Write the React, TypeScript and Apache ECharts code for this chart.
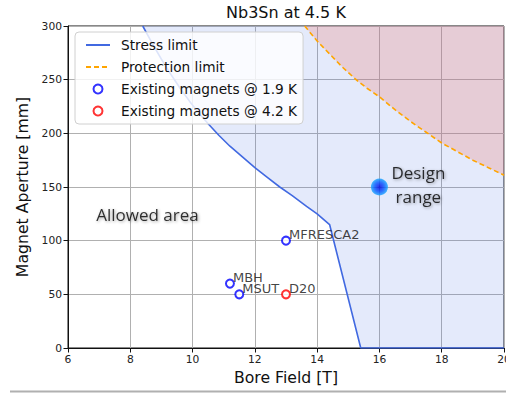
import React, { useEffect, useRef } from "react";
import * as echarts from "echarts";

// Stress limit curve (Bore field [T] vs aperture [mm])
const stressField = [8.4, 8.7, 9.0, 9.3, 9.6, 9.9, 10.2, 10.5, 10.85, 11.2, 11.6, 12.0, 12.4, 12.8, 13.2, 13.66, 14.0, 14.4, 15.4, 20];
const stressAperture = [300, 284, 269, 255, 242, 230, 219, 209, 198, 188, 178, 168, 159, 150, 142, 132, 125, 115, 0, 0];

// Protection limit curve
const protField = [13.6, 14.0, 14.4, 14.8, 15.25, 15.6, 16, 16.5, 17, 17.5, 18, 18.5, 19, 19.5, 20];
const protAperture = [300, 286, 274, 262, 250, 242, 234, 222, 211, 201, 191, 183, 175, 168, 161];

// Existing magnets
const magnetsNames19 = ["MBH", "MSUT", "MFRESCA2"];
const magnetsField19 = [11.2, 11.5, 13];
const magnetsAperture19 = [60, 50, 100];
const magnetsNames42 = ["D20"];
const magnetsField42 = [13];
const magnetsAperture42 = [50];

// Design range point
const designField = [16];
const designAperture = [150];

// Text annotations (data coordinates)
const annotationTexts = ["Allowed area", "Design\nrange"];
const annotationField = [8.55, 17.25];
const annotationAperture = [124, 152];

const xTicks = { min: 6, max: 20, interval: 2 };
const yTicks = { min: 0, max: 300, interval: 50 };

const FONT = "DejaVu Sans";

export default function App() {
  const ref = useRef<HTMLDivElement>(null);
  useEffect(() => {
    if (!ref.current) return;
    const chart = echarts.init(ref.current, null, { renderer: "svg" });
    const hideSymbol = { opacity: 0, borderWidth: 0 };
    const option: any = {
      animation: false,
      backgroundColor: "#fff",
      title: {
        text: "Nb3Sn at 4.5 K",
        left: 226,
        top: 4,
        padding: 0,
        textStyle: { fontFamily: FONT, fontSize: 16, fontWeight: "normal", color: "#111" },
      },
      grid: {
        left: 68,
        top: 26,
        width: 436,
        height: 322,
        outerBoundsMode: "none",
        containLabel: false,
        show: true,
        borderColor: "#111",
        borderWidth: 1,
        backgroundColor: "transparent",
      },
      legend: {
        orient: "vertical",
        left: 75,
        top: 32,
        padding: [5, 6, 5, 10],
        itemGap: 6,
        itemWidth: 24,
        itemHeight: 9,
        backgroundColor: "rgba(255,255,255,0.82)",
        borderColor: "#d0d0d0",
        borderWidth: 1,
        borderRadius: 4,
        textStyle: { fontFamily: FONT, fontSize: 13.7, color: "#111", lineHeight: 16, padding: [0, 0, 0, 6] },
        data: [
          { name: "Stress limit", itemStyle: hideSymbol },
          { name: "Protection limit", itemStyle: hideSymbol },
          "Existing magnets @ 1.9 K",
          "Existing magnets @ 4.2 K",
        ],
      },
      xAxis: {
        type: "value",
        min: xTicks.min,
        max: xTicks.max,
        interval: xTicks.interval,
        name: "Bore Field [T]",
        nameLocation: "middle",
        nameGap: 21,
        nameTextStyle: { fontFamily: FONT, fontSize: 15.7, color: "#111" },
        axisLine: { show: true, onZero: false, lineStyle: { color: "#111", width: 1 } },
        axisTick: { show: true, length: 4.5, lineStyle: { color: "#111" } },
        axisLabel: { fontFamily: FONT, fontSize: 10.7, color: "#222", margin: 6 },
        splitLine: { show: true, lineStyle: { color: "#b0b0b0", width: 1 } },
      },
      yAxis: {
        type: "value",
        min: yTicks.min,
        max: yTicks.max,
        interval: yTicks.interval,
        name: "Magnet Aperture [mm]",
        nameLocation: "middle",
        nameGap: 34,
        nameTextStyle: { fontFamily: FONT, fontSize: 15.7, color: "#111" },
        axisLine: { show: true, onZero: false, lineStyle: { color: "#111", width: 1 } },
        axisTick: { show: true, length: 4.5, lineStyle: { color: "#111" } },
        axisLabel: { fontFamily: FONT, fontSize: 10.7, color: "#222", margin: 6 },
        splitLine: { show: true, lineStyle: { color: "#b0b0b0", width: 1 } },
      },
      series: [
        {
          name: "Stress limit",
          type: "line",
          symbol: "none",
          data: stressField.map((b, i) => [b, stressAperture[i]]),
          lineStyle: { color: "#4169e1", width: 1.6 },
          itemStyle: { color: "#4169e1" },
          areaStyle: { origin: "end", color: "rgba(65,105,225,0.2)" },
          z: 2,
        },
        {
          name: "Protection limit",
          type: "line",
          symbol: "none",
          data: protField.map((b, i) => [b, protAperture[i]]),
          lineStyle: { color: "#ffa500", width: 1.6, type: [5, 3] },
          itemStyle: { color: "#ffa500" },
          areaStyle: { origin: "end", color: "rgba(235,115,105,0.36)" },
          z: 3,
        },
        {
          name: "Existing magnets @ 1.9 K",
          type: "scatter",
          symbol: "circle",
          symbolSize: 8,
          itemStyle: { color: "#fff", borderColor: "#0000ff", borderWidth: 2 },
          data: magnetsNames19.map((n, i) => ({ name: n, value: [magnetsField19[i], magnetsAperture19[i]] })),
          label: {
            show: true,
            position: "right",
            distance: 0,
            offset: [-2, -6],
            formatter: "{b}",
            fontFamily: FONT,
            fontSize: 13,
            color: "#111",
          },
          z: 5,
        },
        {
          name: "Existing magnets @ 4.2 K",
          type: "scatter",
          symbol: "circle",
          symbolSize: 8,
          itemStyle: { color: "#fff", borderColor: "#ff0000", borderWidth: 2 },
          data: magnetsNames42.map((n, i) => ({ name: n, value: [magnetsField42[i], magnetsAperture42[i]] })),
          label: {
            show: true,
            position: "right",
            distance: 0,
            offset: [-2, -6],
            formatter: "{b}",
            fontFamily: FONT,
            fontSize: 13,
            color: "#111",
          },
          z: 5,
        },
        {
          name: "Design range",
          type: "scatter",
          symbol: "circle",
          symbolSize: 17,
          itemStyle: {
            color: new echarts.graphic.RadialGradient(0.5, 0.5, 0.5, [
              { offset: 0, color: "#0000e0" },
              { offset: 0.55, color: "#0050ff" },
              { offset: 1, color: "#18a8ff" },
            ]),
          },
          data: designField.map((b, i) => [b, designAperture[i]]),
          z: 6,
        },
        {
          name: "annotations",
          type: "scatter",
          symbolSize: 0,
          silent: true,
          data: annotationTexts.map((t, i) => ({ name: t, value: [annotationField[i], annotationAperture[i]] })),
          label: {
            show: true,
            position: "inside",
            formatter: "{b}",
            align: "center",
            verticalAlign: "middle",
            fontFamily: "Open Sans",
            fontSize: 17,
            lineHeight: 24,
            color: "#000",
            textShadowColor: "rgba(0,0,0,0.45)",
            textShadowBlur: 3,
            textShadowOffsetX: 1,
            textShadowOffsetY: 1,
          },
          z: 7,
        },
      ],
      graphic: [
        {
          type: "line",
          shape: { x1: 10, y1: 391.5, x2: 506, y2: 391.5 },
          style: { stroke: "#b0b0b0", lineWidth: 2 },
          silent: true,
        },
      ],
    };
    chart.setOption(option);
    return () => chart.dispose();
  }, []);
  return (
    <div
      ref={ref}
      style={{ position: "absolute", left: 0, top: 0, width: 506, height: 393 }}
    />
  );
}
